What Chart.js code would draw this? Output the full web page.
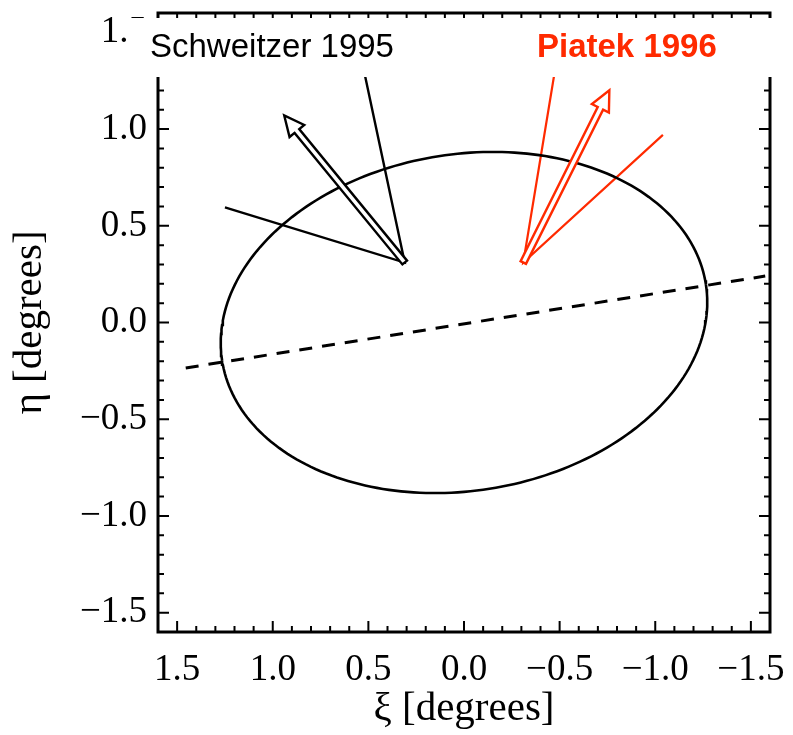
<!DOCTYPE html>
<html>
<head>
<meta charset="utf-8">
<script src="https://cdn.jsdelivr.net/npm/chart.js@4.4.0/dist/chart.umd.min.js"></script>
<style>
  html, body { margin: 0; padding: 0; background: #fff; }
</style>
</head>
<body>
<canvas id="lmc" width="793" height="735"></canvas>
<script>
// tick positions, degrees
const xiTicks = [1.5, 1.0, 0.5, 0.0, -0.5, -1.0, -1.5];
const etaTicks = [-1.5, -1.0, -0.5, 0.0, 0.5, 1.0, 1.5];

// disk outline: centre (xi, eta), semi-axes, position angle in degrees
const diskCentre = [0.0, 0.0];
const diskAxes = [1.28, 0.87];
const diskAngle = -8.8;

// line of nodes (dashed)
const nodesXi = [1.455, -1.575];
const nodesEta = [-0.235, 0.24];

// Schweitzer 1995: start point, error wedge ends, motion vector tip
const schOrigin = [0.31, 0.31];
const schWedge = [[1.25, 0.595], [0.555, 1.45]];
const schTip = [0.94, 1.07];

// Piatek 1996
const piaOrigin = [-0.31, 0.31];
const piaWedge = [[-0.50, 1.45], [-1.04, 0.97]];
const piaTip = [-0.76, 1.20];

const RED = '#ff2a00';

const fmt = v => (v < 0 ? '\u2212' : '') + Math.abs(v).toFixed(1);

function ellipsePoints() {
  const pts = [];
  const th = diskAngle * Math.PI / 180;
  for (let i = 0; i <= 240; i++) {
    const t = 2 * Math.PI * i / 240;
    const u = diskAxes[0] * Math.cos(t), w = diskAxes[1] * Math.sin(t);
    pts.push({
      x: diskCentre[0] + u * Math.cos(th) - w * Math.sin(th),
      y: diskCentre[1] + u * Math.sin(th) + w * Math.cos(th)
    });
  }
  return pts;
}

const wedge = (o, w) => [
  { x: w[0][0], y: w[0][1] },
  { x: o[0], y: o[1] },
  { x: w[1][0], y: w[1][1] }
];

// box with inward major/minor ticks on all four sides
const frame = {
  id: 'frame',
  afterDatasetsDraw(chart) {
    const { ctx, chartArea: a, scales: { x, y } } = chart;
    ctx.save();
    ctx.strokeStyle = '#000';
    ctx.lineWidth = 2;
    for (let k = -16; k <= 16; k++) {
      const v = k / 10;
      const len = k % 5 === 0 ? 11 : 6;
      const px = x.getPixelForValue(v);
      const py = y.getPixelForValue(v);
      ctx.beginPath();
      ctx.moveTo(px, a.bottom); ctx.lineTo(px, a.bottom - len);
      ctx.moveTo(px, a.top); ctx.lineTo(px, a.top + len);
      ctx.moveTo(a.left, py); ctx.lineTo(a.left + len, py);
      ctx.moveTo(a.right, py); ctx.lineTo(a.right - len, py);
      ctx.stroke();
    }
    ctx.lineWidth = 3;
    ctx.strokeRect(a.left, a.top, a.right - a.left, a.bottom - a.top);
    ctx.restore();
  }
};

// hollow proper-motion arrows
const arrows = {
  id: 'arrows',
  afterDatasetsDraw(chart) {
    const { ctx, scales: { x, y } } = chart;
    const draw = (o, t, color) => {
      const x0 = x.getPixelForValue(o[0]), y0 = y.getPixelForValue(o[1]);
      const x1 = x.getPixelForValue(t[0]), y1 = y.getPixelForValue(t[1]);
      const d = Math.hypot(x1 - x0, y1 - y0);
      const ux = (x1 - x0) / d, uy = (y1 - y0) / d;
      const nx = -uy, ny = ux;
      const w = 3, h = 9.5, L = 20;
      const bx = x1 - ux * L, by = y1 - uy * L;
      ctx.save();
      ctx.beginPath();
      ctx.moveTo(x0 + nx * w, y0 + ny * w);
      ctx.lineTo(bx + nx * w, by + ny * w);
      ctx.lineTo(bx + nx * h, by + ny * h);
      ctx.lineTo(x1, y1);
      ctx.lineTo(bx - nx * h, by - ny * h);
      ctx.lineTo(bx - nx * w, by - ny * w);
      ctx.lineTo(x0 - nx * w, y0 - ny * w);
      ctx.closePath();
      ctx.fillStyle = '#fff';
      ctx.fill();
      ctx.lineWidth = 2.4;
      ctx.lineJoin = 'miter';
      ctx.strokeStyle = color;
      ctx.stroke();
      ctx.restore();
    };
    draw(schOrigin, schTip, '#000');
    draw(piaOrigin, piaTip, RED);
  }
};

// white strip carrying the two source labels
const sources = {
  id: 'sources',
  afterDraw(chart) {
    const { ctx } = chart;
    ctx.save();
    ctx.fillStyle = '#fff';
    ctx.fillRect(129, 18, 643, 59);
    ctx.textBaseline = 'alphabetic';
    ctx.textAlign = 'left';
    ctx.fillStyle = '#000';
    ctx.font = '33px "Liberation Sans", Arial, sans-serif';
    ctx.fillText('Schweitzer 1995', 150, 57);
    ctx.fillStyle = RED;
    ctx.font = 'bold 33px "Liberation Sans", Arial, sans-serif';
    ctx.fillText('Piatek 1996', 537, 57);
    ctx.restore();
  }
};

const tickFont = { family: '"Liberation Serif", "Times New Roman", serif', size: 37 };
const titleFont = { family: '"Liberation Serif", "Times New Roman", serif', size: 41 };

new Chart(document.getElementById('lmc'), {
  type: 'scatter',
  data: {
    datasets: [
      {
        data: ellipsePoints(),
        showLine: true, borderColor: '#000', borderWidth: 2.6,
        pointRadius: 0, tension: 0
      },
      {
        data: nodesXi.map((v, i) => ({ x: v, y: nodesEta[i] })),
        showLine: true, borderColor: '#000', borderWidth: 3,
        borderDash: [13, 10], pointRadius: 0
      },
      {
        data: wedge(schOrigin, schWedge),
        showLine: true, borderColor: '#000', borderWidth: 2.4, pointRadius: 0
      },
      {
        data: wedge(piaOrigin, piaWedge),
        showLine: true, borderColor: RED, borderWidth: 2.2, pointRadius: 0
      }
    ]
  },
  options: {
    responsive: false,
    animation: false,
    layout: { padding: { top: 13, right: 23, left: 0, bottom: 0 } },
    plugins: { legend: { display: false }, tooltip: { enabled: false } },
    scales: {
      x: {
        type: 'linear', reverse: true, min: -1.6, max: 1.6,
        afterBuildTicks: s => { s.ticks = xiTicks.map(v => ({ value: v })); },
        afterFit: s => { s.height = 103; s.paddingLeft = 0; s.paddingRight = 0; },
        grid: { display: false, drawTicks: false },
        border: { display: false },
        ticks: { callback: fmt, font: tickFont, color: '#000', padding: 16, maxRotation: 0, autoSkip: false },
        title: { display: true, text: 'ξ [degrees]', font: titleFont, color: '#000', padding: { top: 0, bottom: 1 } }
      },
      y: {
        type: 'linear', min: -1.6, max: 1.6,
        afterBuildTicks: s => { s.ticks = etaTicks.map(v => ({ value: v })); },
        afterFit: s => { s.width = 158; s.paddingTop = 0; s.paddingBottom = 0; },
        grid: { display: false, drawTicks: false },
        border: { display: false },
        ticks: { callback: fmt, font: tickFont, color: '#000', padding: 11, autoSkip: false },
        title: { display: true, text: 'η [degrees]', font: titleFont, color: '#000', padding: { top: 6, bottom: 0 } }
      }
    }
  },
  plugins: [frame, arrows, sources]
});
</script>
</body>
</html>
